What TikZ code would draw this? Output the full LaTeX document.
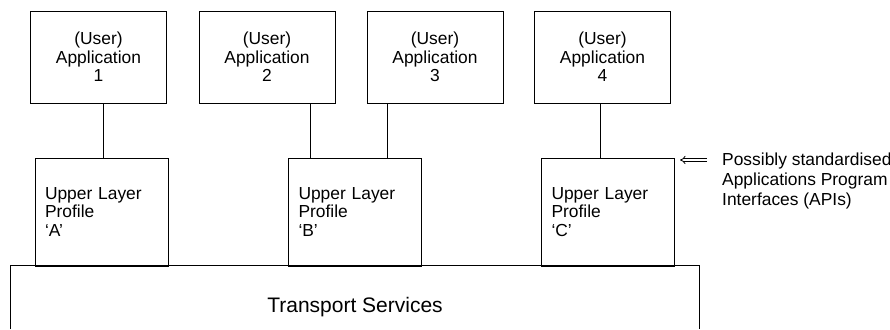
\documentclass[tikz,border=0pt]{standalone}
\usepackage{fontspec}
\setmainfont{Liberation Sans}
\usetikzlibrary{arrows.meta}
\tikzset{
  appbox/.style={draw, line width=0.8pt, minimum width=136pt, minimum height=92pt,
    align=center, font=\fontsize{17.4}{18.6}\selectfont},
  ulpbox/.style={draw, line width=0.8pt, text width=113pt, inner xsep=10pt,
    minimum height=108pt, align=left, font=\fontsize{17.4}{18.6}\selectfont},
  link/.style={line width=0.8pt},
  apiarrow/.style={double, double distance=2pt, line width=0.8pt, -{Implies[length=4pt]}}
}
\begin{document}
\begin{tikzpicture}[x=1pt,y=1pt]
        \useasboundingbox (0,0) rectangle (890,329);

        \node[appbox] (app1) at (98.5,272) {(User)\\Application\\1};
        \node[appbox] (app2) at (267,272) {(User)\\Application\\2};
        \node[appbox] (app3) at (435,272) {(User)\\Application\\3};
        \node[appbox] (app4) at (602.5,272) {(User)\\Application\\4};

        \node[ulpbox] (ulpA) at (101.5,117) {Upper Layer\\Profile\\`A'};
        \node[ulpbox] (ulpB) at (355,117) {Upper Layer\\Profile\\`B'};
        \node[ulpbox] (ulpC) at (608,117) {Upper Layer\\Profile\\`C'};

        \draw[link] ([xshift=4.5pt]app1.south) -- ([xshift=4.5pt]app1.south |- ulpA.north);
        \draw[link] ([xshift=43pt]app2.south) -- ([xshift=43pt]app2.south |- ulpB.north);
        \draw[link] ([xshift=-48pt]app3.south) -- ([xshift=-48pt]app3.south |- ulpB.north);
        \draw[link] ([xshift=-2.5pt]app4.south) -- ([xshift=-2.5pt]app4.south |- ulpC.north);

        \node[minimum width=688pt, minimum height=63pt, inner sep=0pt] (trans) at (355,31.5) {};
        \node[font=\fontsize{21}{24}\selectfont] (translabel) at (355,21.5) {Transport Services};
        \draw[link] (trans.south west) -- (trans.north west) -- (trans.north east) -- (trans.south east);

        \node[anchor=north west, inner sep=0pt, align=left, font=\fontsize{17.4}{20}\selectfont]
          (api) at (722,176.5) {Possibly standardised\\Applications Program\\Interfaces (APIs)};
        \coordinate (apitail) at (707,169);
        \coordinate (apitip) at (680,169);
        \draw[apiarrow] (apitail) -- (apitip);
    \end{tikzpicture}
\end{document}
